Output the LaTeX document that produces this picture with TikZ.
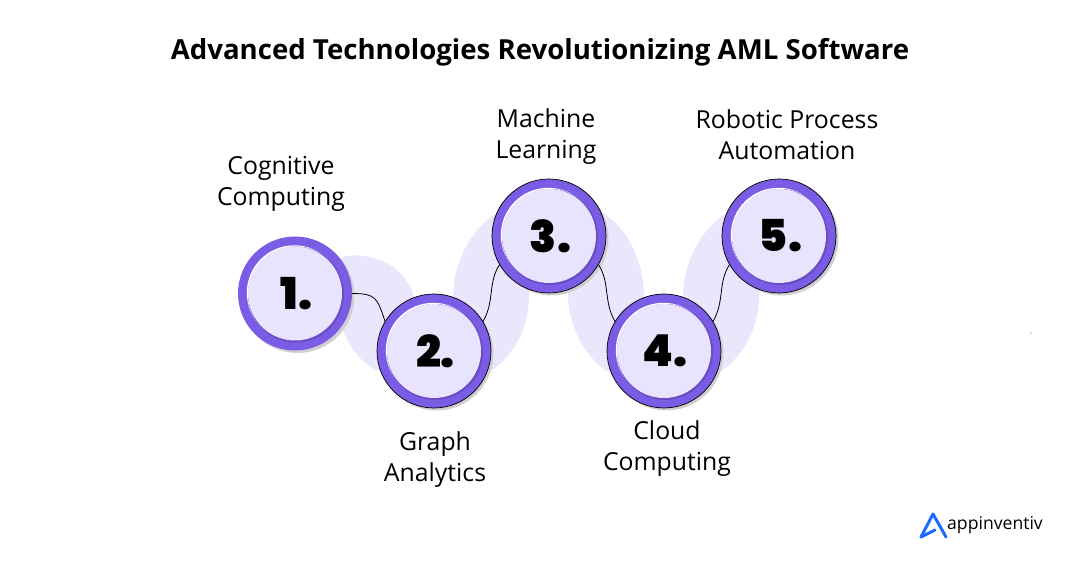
\documentclass[tikz,border=0pt]{standalone}
\usepackage{fontspec}
\setmainfont{Open Sans}
\newfontfamily\numfont{Poppins Black}
\definecolor{ringpurple}{HTML}{7B5CE5}
\definecolor{ringdark}{HTML}{6A4DC4}
\definecolor{facelilac}{HTML}{E9E4FD}
\definecolor{bandlilac}{HTML}{EAE6FC}
\definecolor{shadowgray}{HTML}{CFCFD2}
\definecolor{logoblue}{HTML}{1A6BFF}
\tikzset{
  stepring/.style={circle, fill=ringpurple, draw=black, line width=.7pt, minimum size=114pt, inner sep=0pt, outer sep=0pt,
    font=\numfont\fontsize{44}{44}\selectfont, execute at begin node=\hspace{3pt},
    preaction={draw=none, fill=shadowgray, transform canvas={shift={(2.5pt,-2.5pt)}}},
    path picture={
      \fill[white] (path picture bounding box.center) ++(-.7pt,.7pt) circle (47.5pt);
      \fill[ringdark] (path picture bounding box.center) ++(1pt,-1pt) circle (48pt);
      \fill[facelilac] (path picture bounding box.center) circle (47pt);
    }},
  steplabel/.style={align=center, font=\fontsize{24.8}{31}\selectfont},
  band/.style={fill=bandlilac},
  link/.style={draw=black, line width=.8pt}
}
\begin{document}
\begin{tikzpicture}[x=1pt,y=-1pt]
  \useasboundingbox (0,0) rectangle (1080,569);

  % bands behind the circles
  \fill[band] (345,256) .. controls (380,252) and (408,270) .. (415,300) -- (440,340) -- (378,371) .. controls (360,362) and (350,348) .. (343,330) -- (300,290) -- cycle;
  \fill[band] (453,297) .. controls (453,262) and (472,228) .. (497,213) -- (549,236) -- (529,293) .. controls (530,325) and (515,355) .. (490,372) -- (434,351) -- cycle;
  \fill[band] (603,213) .. controls (628,228) and (644,262) .. (644,297) -- (664,351) -- (608,372) .. controls (583,355) and (568,325) .. (568,293) -- (549,236) -- cycle;
  \fill[band] (683,297) .. controls (683,262) and (702,228) .. (727,213) -- (779,236) -- (759,293) .. controls (760,325) and (745,355) .. (720,372) -- (664,351) -- cycle;

  \node[font=\bfseries\fontsize{27.6}{30}\selectfont] (title) at (540,52) {Advanced Technologies Revolutionizing AML Software};

  \node[stepring, draw=none] (n1) at (295,293.5) {1.};
  \node[stepring] (n2) at (434,351) {2.};
  \node[stepring] (n3) at (549,236) {3.};
  \node[stepring] (n4) at (664,351) {4.};
  \node[stepring] (n5) at (779,236) {5.};

  \draw[link] (n1.east) .. controls +(24,0) and +(-8,-24) .. (n2.149);
  \draw[link] (n2.31) .. controls +(12,-20) and +(-12,18) .. (n3.210);
  \draw[link] (n3.330) .. controls +(12,18) and +(-12,-20) .. (n4.149);
  \draw[link] (n4.31) .. controls +(12,-20) and +(-12,18) .. (n5.210);

  \node[steplabel] (cognitive) at (281,183.5) {Cognitive\\Computing};
  \node[steplabel] (graph) at (435,459.5) {Graph\\Analytics};
  \node[steplabel] (machine) at (546,136.5) {Machine\\Learning};
  \node[steplabel] (cloud) at (667,448.5) {Cloud\\Computing};
  \node[steplabel] (robotic) at (787,134.5) {Robotic Process\\Automation};

  % logo
  \draw[logoblue, line width=3pt, line cap=round, line join=round] (946,537) -- (933,514) -- (921,537) -- (935,530);
  \node[font=\fontsize{17.6}{22}\selectfont] (brand) at (995,525) {appinventiv};
  \fill[black!60] (1031,333) circle (.7);
\end{tikzpicture}
\end{document}
